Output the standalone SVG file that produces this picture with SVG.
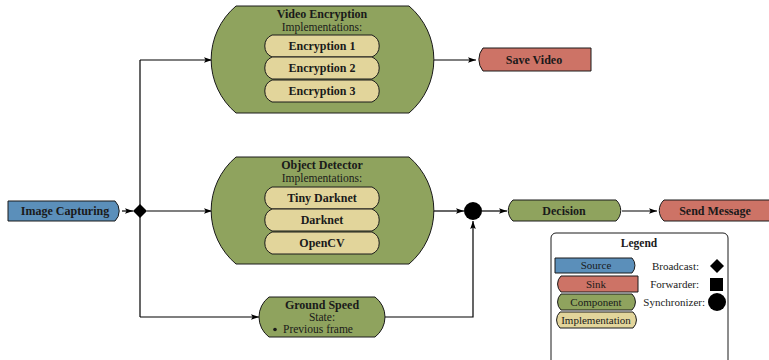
<svg xmlns="http://www.w3.org/2000/svg" width="769" height="360" viewBox="0 0 769 360" font-family="'Liberation Serif', 'DejaVu Serif', serif">
<defs>
<marker id="ah" viewBox="0 0 10 10" refX="10" refY="5" markerWidth="8" markerHeight="8" markerUnits="userSpaceOnUse" orient="auto">
<path d="M0,1.5 L10,5 L0,8.5 L2,5 Z" fill="#000"/>
</marker>
</defs>
<style>
text{font-family:'Liberation Serif','DejaVu Serif',serif;fill:#1a1a1a;text-anchor:middle}
.b{font-weight:bold;font-size:12px}
.r{font-size:11.5px}
.l{font-size:11px}
.src{fill:#5b8fba;stroke:#1a1a1a;stroke-width:1}
.snk{fill:#cd7366;stroke:#1a1a1a;stroke-width:1}
.cmp{fill:#8fa35e;stroke:#1a1a1a;stroke-width:1}
.imp{fill:#e2d59b;stroke:#1a1a1a;stroke-width:1}
.c{fill:none;stroke:#000;stroke-width:1.2}
.a{marker-end:url(#ah)}
</style>

<g id="connectors">
<line class="c a" x1="122" y1="211" x2="133" y2="211"/>
<line class="c" x1="140" y1="60" x2="140" y2="317"/>
<line class="c a" x1="140" y1="60" x2="212" y2="60"/>
<line class="c a" x1="147" y1="211" x2="212" y2="211"/>
<line class="c a" x1="140" y1="317" x2="259" y2="317"/>
<line class="c a" x1="433" y1="60" x2="476" y2="60"/>
<line class="c a" x1="433" y1="211" x2="464" y2="211"/>
<path class="c a" d="M385,317 H473 V221"/>
<line class="c a" x1="482" y1="211" x2="507" y2="211"/>
<line class="c a" x1="622" y1="211" x2="657" y2="211"/>
<path d="M140,204 L147,211 L140,218 L133,211 Z" fill="#000"/>
<circle cx="473" cy="211" r="9" fill="#000"/>
</g>

<g id="image-capturing">
<path class="src" d="M8,201 H115 A14,14 0 0 1 115,221 H8 Z"/>
<text class="b" x="65" y="215">Image Capturing</text>
</g>

<g id="video-encryption">
<path class="cmp" d="M236,6 H409 A70,70 0 0 1 409,113 H236 A70,70 0 0 1 236,6 Z"/>
<text class="b" x="322" y="18">Video Encryption</text>
<text class="r" x="322" y="31">Implementations:</text>
<path class="imp" d="M272,35 H372 A12,12 0 0 1 372,57 H272 A12,12 0 0 1 272,35 Z"/>
<text class="b" x="322" y="50">Encryption 1</text>
<path class="imp" d="M272,57 H372 A12,12 0 0 1 372,79 H272 A12,12 0 0 1 272,57 Z"/>
<text class="b" x="322" y="72">Encryption 2</text>
<path class="imp" d="M272,80 H372 A12,12 0 0 1 372,102 H272 A12,12 0 0 1 272,80 Z"/>
<text class="b" x="322" y="95">Encryption 3</text>
</g>

<g id="object-detector">
<path class="cmp" d="M236,157 H409 A70,70 0 0 1 409,264 H236 A70,70 0 0 1 236,157 Z"/>
<text class="b" x="322" y="169">Object Detector</text>
<text class="r" x="322" y="182">Implementations:</text>
<path class="imp" d="M272,187 H372 A12,12 0 0 1 372,209 H272 A12,12 0 0 1 272,187 Z"/>
<text class="b" x="322" y="202">Tiny Darknet</text>
<path class="imp" d="M272,209 H372 A12,12 0 0 1 372,231 H272 A12,12 0 0 1 272,209 Z"/>
<text class="b" x="322" y="224">Darknet</text>
<path class="imp" d="M272,232 H372 A12,12 0 0 1 372,254 H272 A12,12 0 0 1 272,232 Z"/>
<text class="b" x="322" y="247">OpenCV</text>
</g>

<g id="ground-speed">
<path class="cmp" d="M269,297 H375 A25,25 0 0 1 375,337 H269 A25,25 0 0 1 269,297 Z"/>
<text class="b" x="322" y="309">Ground Speed</text>
<text class="r" x="322" y="321">State:</text>
<circle cx="275" cy="329.5" r="1.8" fill="#1a1a1a"/>
<text class="r" x="283" y="333" style="text-anchor:start">Previous frame</text>
</g>

<g id="save-video">
<path class="snk" d="M483,48 H591 V71 H483 A18,18 0 0 1 483,48 Z"/>
<text class="b" x="534" y="64">Save Video</text>
</g>

<g id="decision">
<path class="cmp" d="M513,200 H616 A14,14 0 0 1 616,221 H513 A14,14 0 0 1 513,200 Z"/>
<text class="b" x="564" y="215">Decision</text>
</g>

<g id="send-message">
<path class="snk" d="M664,200 H775 V221 H664 A14,14 0 0 1 664,200 Z"/>
<text class="b" x="715" y="215">Send Message</text>
</g>

<g id="legend">
<rect x="551" y="233" width="177" height="140" rx="5" fill="#fff" stroke="#1a1a1a" stroke-width="1"/>
<text class="b" x="639" y="247" style="font-size:11.5px">Legend</text>
<path class="src" d="M555,258 H632 A11,11 0 0 1 632,273 H555 Z"/>
<text class="l" x="596" y="269">Source</text>
<path class="snk" d="M561,276 H638 V292 H561 A11,11 0 0 1 561,276 Z"/>
<text class="l" x="596" y="288">Sink</text>
<path class="cmp" d="M561,294 H632 A11,11 0 0 1 632,310 H561 A11,11 0 0 1 561,294 Z"/>
<text class="l" x="596" y="306">Component</text>
<path class="imp" d="M560,312 H633 A11,11 0 0 1 633,328 H560 A11,11 0 0 1 560,312 Z"/>
<text class="l" x="596" y="324">Implementation</text>
<text class="l" x="699" y="270" style="text-anchor:end">Broadcast:</text>
<path d="M717,259 L724,266 L717,273 L710,266 Z" fill="#000"/>
<text class="l" x="699" y="288" style="text-anchor:end">Forwarder:</text>
<rect x="710" y="278" width="13" height="13" fill="#000"/>
<text class="l" x="705" y="306" style="text-anchor:end">Synchronizer:</text>
<circle cx="717" cy="302" r="9" fill="#000"/>
</g>
</svg>
